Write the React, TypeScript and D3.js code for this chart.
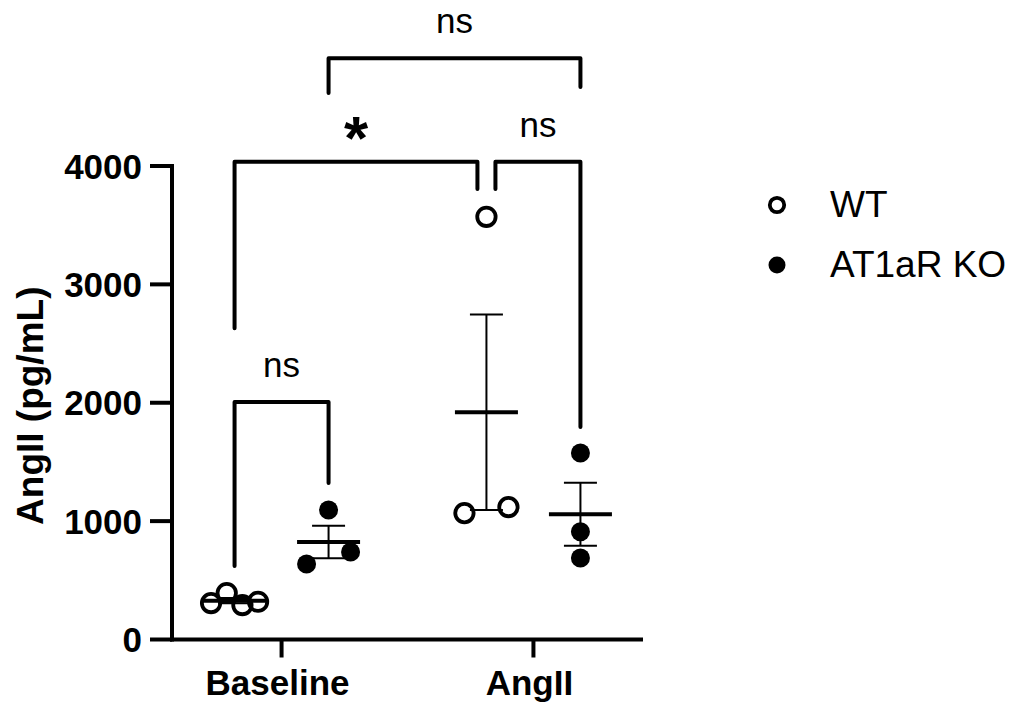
import React from "react";
import * as d3 from "d3";

// groups on the x axis and the two series in each group
const groups = ["Baseline", "AngII"];
const series = ["WT", "AT1aR KO"];

// individual values (pg/mL), listed left to right as drawn
const baselineWT = [308, 393, 291, 319];
const baselineKO = [638, 1094, 739];
const angiiWT = [1068, 3571, 1119];
const angiiKO = [1575, 911, 688];

// horizontal spread of the scatter for each column (px, half width)
const baselineWTSpread = [23.5];
const baselineKOSpread = [22];
const angiiWTSpread = [22];
const angiiKOSpread = [0];

const yTicks = [0, 1000, 2000, 3000, 4000];

// multiple comparison brackets: y of bar, leg ends (data units)
const comparisons = [
  { from: ["Baseline", "WT"], to: ["Baseline", "AT1aR KO"], label: "ns", y: 2006, legs: [621, 1322] },
  { from: ["Baseline", "WT"], to: ["AngII", "WT"], label: "*", y: 4035, legs: [2630, 3805] },
  { from: ["AngII", "WT"], to: ["AngII", "AT1aR KO"], label: "ns", y: 4035, legs: [3805, 1795] },
  { from: ["Baseline", "AT1aR KO"], to: ["AngII", "AT1aR KO"], label: "ns", y: 4911, legs: [4616, 4667] },
];

const columns = [
  { group: "Baseline", series: "WT", values: baselineWT, spread: baselineWTSpread[0] },
  { group: "Baseline", series: "AT1aR KO", values: baselineKO, spread: baselineKOSpread[0] },
  { group: "AngII", series: "WT", values: angiiWT, spread: angiiWTSpread[0] },
  { group: "AngII", series: "AT1aR KO", values: angiiKO, spread: angiiKOSpread[0] },
];

const FONT = "'Liberation Sans', Arial, sans-serif";

export default function App() {
  const width = 1016;
  const height = 709;
  const left = 172;
  const right = 643;
  const top = 166;
  const bottom = 639.5;

  const x = d3.scalePoint<string>().domain(groups).range([left, right]).padding(0.435);
  const sub = d3.scalePoint<string>().domain(series).range([-47, 47]);
  const y = d3.scaleLinear().domain([0, 4000]).range([bottom, top]);

  const cx = (g: string, s: string) => (x(g) as number) + (sub(s) as number);

  const black = "#000";
  const gap = 9;

  // endpoints shared by two brackets get pulled apart a little
  const key = (p: string[]) => p.join("|");
  const shared = (p: string[], idx: number) =>
    comparisons.some((c, j) => j !== idx && c.y === comparisons[idx].y && (key(c.from) === key(p) || key(c.to) === key(p)));

  return (
    <svg width={width} height={height} style={{ position: "absolute", left: 0, top: 0, background: "#fff" }} fontFamily={FONT}>
      {/* y axis */}
      <line x1={left} x2={left} y1={top - 2} y2={bottom + 2} stroke={black} strokeWidth={4} />
      {yTicks.map(t => (
        <g key={t}>
          <line x1={left - 22} x2={left} y1={y(t)} y2={y(t)} stroke={black} strokeWidth={4} />
          <text x={left - 30} y={y(t) + 12.5} textAnchor="end" fontSize={35} fontWeight="bold">
            {t}
          </text>
        </g>
      ))}
      <text
        transform={`translate(43,${(top + bottom) / 2 + 3}) rotate(-90)`}
        textAnchor="middle"
        fontSize={37}
        fontWeight="bold"
      >
        AngII (pg/mL)
      </text>

      {/* x axis */}
      <line x1={left - 2} x2={right} y1={bottom} y2={bottom} stroke={black} strokeWidth={4} />
      {groups.map(g => (
        <g key={g}>
          <line x1={x(g)} x2={x(g)} y1={bottom} y2={bottom + 18} stroke={black} strokeWidth={4} />
          <text x={(x(g) as number) - 4} y={695} textAnchor="middle" fontSize={35} fontWeight="bold">
            {g}
          </text>
        </g>
      ))}

      {/* columns: mean ± SEM and points */}
      {columns.map(col => {
        const c = cx(col.group, col.series);
        const m = d3.mean(col.values) as number;
        const sem = (d3.deviation(col.values) as number) / Math.sqrt(col.values.length);
        const jitter = d3
          .scalePoint<number>()
          .domain(col.values.map((_, i) => i))
          .range([-col.spread, col.spread]);
        const open = col.series === "WT";
        return (
          <g key={col.group + col.series}>
            <line x1={c} x2={c} y1={y(m - sem)} y2={y(m + sem)} stroke={black} strokeWidth={2} />
            <line x1={c - 16.5} x2={c + 16.5} y1={y(m + sem)} y2={y(m + sem)} stroke={black} strokeWidth={2} />
            <line x1={c - 16.5} x2={c + 16.5} y1={y(m - sem)} y2={y(m - sem)} stroke={black} strokeWidth={2} />
            {col.values.map((v, i) => (
              <circle
                key={i}
                cx={c + (jitter(i) as number)}
                cy={y(v)}
                r={open ? 9.2 : 9.5}
                fill={open ? "none" : black}
                stroke={open ? black : "none"}
                strokeWidth={3.8}
              />
            ))}
            <line x1={c - 31.5} x2={c + 31.5} y1={y(m)} y2={y(m)} stroke={black} strokeWidth={4} />
          </g>
        );
      })}

      {/* comparison brackets */}
      {comparisons.map((cmp, i) => {
        let x1 = cx(cmp.from[0], cmp.from[1]);
        let x2 = cx(cmp.to[0], cmp.to[1]);
        if (shared(cmp.from, i)) x1 += gap;
        if (shared(cmp.to, i)) x2 -= gap;
        const yb = y(cmp.y);
        const path = d3.path();
        path.moveTo(x1, y(cmp.legs[0]));
        path.lineTo(x1, yb);
        path.lineTo(x2, yb);
        path.lineTo(x2, y(cmp.legs[1]));
        const star = cmp.label === "*";
        return (
          <g key={i}>
            <path d={path.toString()} fill="none" stroke={black} strokeWidth={4} strokeLinecap="round" strokeLinejoin="round" />
            <text
              x={(x1 + x2) / 2}
              y={star ? yb - 3 : yb - 25}
              textAnchor="middle"
              fontSize={star ? 62 : 35}
              fontWeight={star ? "bold" : "normal"}
            >
              {cmp.label}
            </text>
          </g>
        );
      })}

      {/* legend */}
      {series.map((s, i) => (
        <g key={s} transform={`translate(777,${205 + i * 60})`}>
          <circle
            r={s === "WT" ? 7.2 : 8.5}
            fill={s === "WT" ? "none" : black}
            stroke={s === "WT" ? black : "none"}
            strokeWidth={3.8}
          />
          <text x={53} y={7} fontSize={37} transform="translate(0,5)">
            {s}
          </text>
        </g>
      ))}
    </svg>
  );
}
